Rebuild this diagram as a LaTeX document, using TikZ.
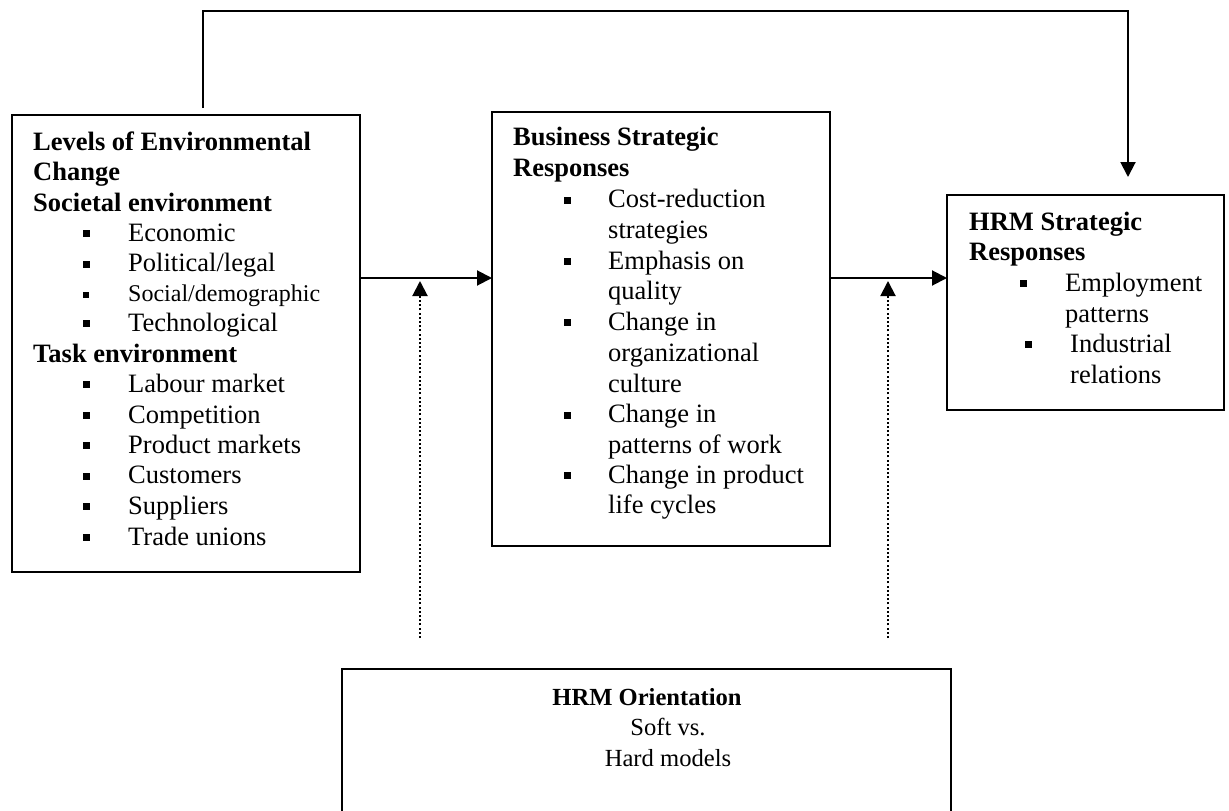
\documentclass[tikz,border=0pt]{standalone}
\usepackage{fontspec}
\setmainfont{Liberation Serif}
\usetikzlibrary{arrows.meta}
\tikzset{
 boxst/.style={draw, line width=2pt, inner sep=0pt, outer sep=0pt, anchor=north west, rectangle},
 hd/.style={anchor=base west, inner sep=0pt, font=\fontsize{26.5}{30}\selectfont\bfseries},
 tx/.style={anchor=base west, inner sep=0pt, font=\fontsize{26.5}{30}\selectfont},
 txs/.style={anchor=base west, inner sep=0pt, font=\fontsize{24}{28}\selectfont},
 ctx/.style={anchor=base, inner sep=0pt, font=\fontsize{24.6}{28}\selectfont},
 bul/.style={rectangle, fill=black, draw=none, minimum size=7pt, inner sep=0pt, anchor=center},
 buls/.style={rectangle, fill=black, draw=none, minimum size=6pt, inner sep=0pt, anchor=center},
 arr/.style={line width=2pt, -{Triangle[length=15pt,width=15pt]}},
 dotarr/.style={line width=2pt, dash pattern=on 2pt off 2.2pt, -{Triangle[length=15pt,width=15pt]}},
}
\newcommand\bitem[5]{\node[bul] (#1b) at (#2,{#4-7.5}) {};\node[tx] (#1) at (#3,#4) {#5};}
\begin{document}
\begin{tikzpicture}[x=1pt,y=-1pt]
\clip (0,0) rectangle (1229,811);
\fill[white] (0,0) rectangle (1229,811);
% boxes
\node[boxst, minimum width=348pt, minimum height=457pt] (lbox) at (12,115) {};
\node[boxst, minimum width=338pt, minimum height=434pt] (mbox) at (492,112) {};
\node[boxst, minimum width=277pt, minimum height=215pt] (hbox) at (947,195) {};
\node[boxst, minimum width=609pt, minimum height=170pt] (obox) at (342,669) {};
% left box text
\node[hd] (l1) at (33,150) {Levels of Environmental};
\node[hd] (l2) at (33,180.5) {Change};
\node[hd] (l3) at (33,211) {Societal environment};
\bitem{l4}{86}{128}{241}{Economic}
\bitem{l5}{86}{128}{271.5}{Political/legal}
\node[buls] (l6b) at (86,294.5) {};
\node[txs] (l6) at (128,301.5) {Social/demographic};
\bitem{l7}{86}{128}{331}{Technological}
\node[hd] (l8) at (33,362) {Task environment};
\bitem{l9}{86}{128}{392}{Labour market}
\bitem{l10}{86}{128}{423}{Competition}
\bitem{l11}{86}{128}{453}{Product markets}
\bitem{l12}{86}{128}{483.5}{Customers}
\bitem{l13}{86}{128}{514}{Suppliers}
\bitem{l14}{86}{128}{545}{Trade unions}
% middle box text
\node[hd] (m1) at (513,145) {Business Strategic};
\node[hd] (m2) at (513,176) {Responses};
\bitem{m3}{567}{608}{207.5}{Cost-reduction}
\node[tx] (m4) at (608,238) {strategies};
\bitem{m5}{567}{608}{269}{Emphasis on}
\node[tx] (m6) at (608,299) {quality};
\bitem{m7}{567}{608}{330}{Change in}
\node[tx] (m8) at (608,361) {organizational};
\node[tx] (m9) at (608,392) {culture};
\bitem{m10}{567}{608}{422.5}{Change in}
\node[tx] (m11) at (608,453) {patterns of work};
\bitem{m12}{567}{608}{483}{Change in product}
\node[tx] (m13) at (608,513.5) {life cycles};
% HRM box text
\node[hd] (h1) at (969,230) {HRM Strategic};
\node[hd] (h2) at (969,260) {Responses};
\bitem{h3}{1023}{1065}{291}{Employment}
\node[tx] (h4) at (1065,322) {patterns};
\bitem{h5}{1028}{1070}{352}{Industrial}
\node[tx] (h6) at (1070,383) {relations};
% bottom box text
\node[ctx, font=\fontsize{24.6}{28}\selectfont\bfseries] (o1) at (647,705) {HRM Orientation};
\node[ctx] (o2) at (668,735) {Soft vs.};
\node[ctx] (o3) at (668,766) {Hard models};
% connectors
\coordinate (ay) at (0,278);
\draw[arr] (lbox.east |- ay) -- (mbox.west |- ay);
\draw[arr] (mbox.east |- ay) -- (hbox.west |- ay);
\coordinate (d1) at (420,638);
\coordinate (t1) at (420,281);
\coordinate (d2) at (888,638);
\coordinate (t2) at (888,281);
\draw[dotarr] (d1) -- (t1);
\draw[dotarr] (d2) -- (t2);
\coordinate (fa) at (203,108);
\coordinate (fb) at (1128,177);
\draw[arr] (fa) -- (fa |- 0,11) -| (fb);
\end{tikzpicture}
\end{document}
